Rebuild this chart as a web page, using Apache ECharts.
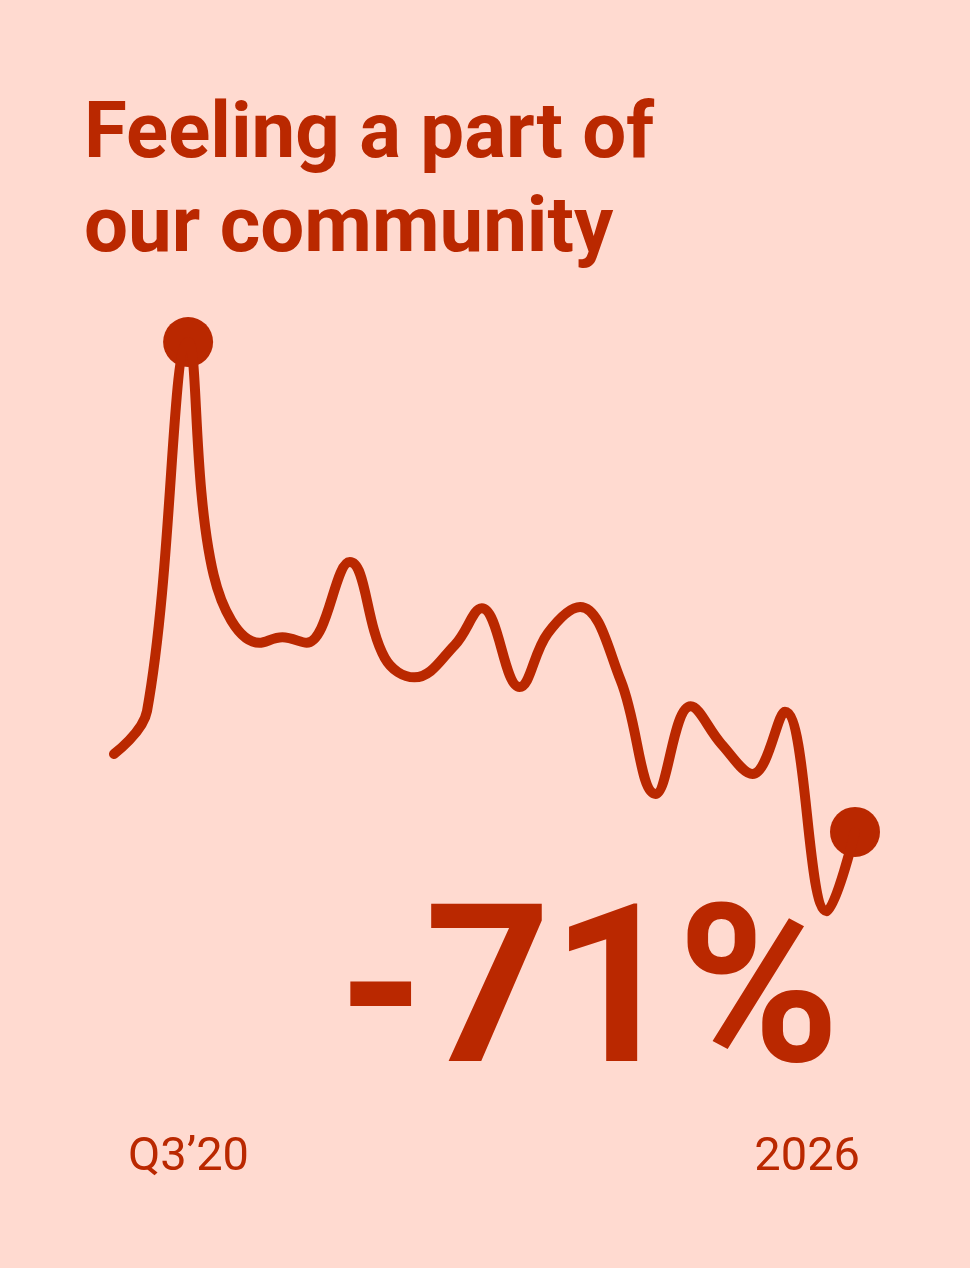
<!DOCTYPE html>
<html style="height: 100%">
<head>
    <meta charset="utf-8">
</head>
<body style="height: 100%; margin: 0; background: #FFDAD0">
    <div id="container" style="width: 970px; height: 1268px"></div>

    <script type="text/javascript" src="https://cdn.jsdelivr.net/npm/echarts@6/dist/echarts.min.js"></script>
    <script type="text/javascript">
        // survey waves, as fractional years, and the index (peak = 100)
        var waves = [2020.50, 2020.745, 2021.05, 2021.24, 2021.58, 2021.75, 2021.93, 2022.25,
                     2022.51, 2022.73, 2023.03, 2023.23, 2023.51, 2023.72, 2023.96, 2024.26,
                     2024.52, 2024.78, 2025.01, 2025.24, 2025.48, 2025.79, 2026.00];
        var feeling = [40.3, 46.5, 100, 66.2, 56.4, 57.2, 56.4, 68.1,
                       54.2, 51.4, 56.1, 61.4, 50.0, 57.8, 61.6, 51.0,
                       34.5, 47.2, 41.7, 37.4, 46.4, 17.5, 29.0];
        var titleLines = ['Feeling a part of', 'our community'];
        var changeLabel = '-71%';
        var startLabel = 'Q3\u201920';
        var endLabel = '2026';

        var red = '#BA2800';
        var dom = document.getElementById("container");
        var myChart = echarts.init(dom);
        var option;

        var lineData = waves.map(function (w, i) { return [w, feeling[i]]; });
        var peakIdx = feeling.indexOf(Math.max.apply(null, feeling));
        var lastIdx = feeling.length - 1;
        var dots = [lineData[peakIdx], lineData[lastIdx]];

        option = {
            backgroundColor: '#FFDAD0',
            animation: false,
            grid: { left: 114, right: 115, top: 342, bottom: 236 },
            xAxis: {
                type: 'value', min: 2020.5, max: 2026,
                show: false
            },
            yAxis: {
                type: 'value', min: 0, max: 100,
                show: false
            },
            graphic: [
                { type: 'text', left: 84, top: 98,
                  style: { text: titleLines[0], fill: red, font: 'bold 78px Roboto' } },
                { type: 'text', left: 84, top: 192,
                  style: { text: titleLines[1], fill: red, font: 'bold 78px Roboto' } },
                { type: 'text', left: 338, top: 896,
                  style: { text: changeLabel, fill: red, font: 'bold 220px Roboto' } },
                { type: 'text', left: 128, top: 1135,
                  style: { text: startLabel, fill: red, font: '47px Roboto' } },
                { type: 'text', right: 110, top: 1135,
                  style: { text: endLabel, fill: red, font: '47px Roboto' } }
            ],
            series: [
                {
                    type: 'line',
                    data: lineData,
                    smooth: 0.4,
                    symbol: 'none',
                    lineStyle: { color: red, width: 10, cap: 'round', join: 'round' }
                },
                {
                    type: 'scatter',
                    data: dots,
                    symbolSize: 50,
                    itemStyle: { color: red, opacity: 1 }
                }
            ]
        };
        myChart.setOption(option);
    </script>
</body>
</html>
